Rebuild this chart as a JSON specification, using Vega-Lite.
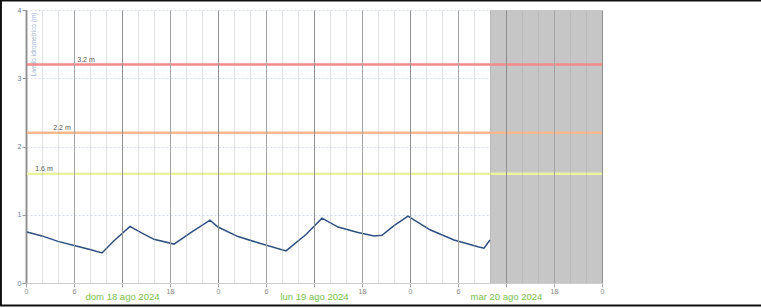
{
  "$schema": "https://vega.github.io/schema/vega-lite/v6.json",
  "width": 576,
  "height": 273,
  "autosize": "none",
  "padding": {"left": 26, "top": 10, "right": 159, "bottom": 25},
  "background": "white",
  "config": {"view": {"stroke": null}, "font": "Liberation Sans"},
  "datasets": {
    "futuro": [{"inizio": "2024-08-20T10:00:00", "fine": "2024-08-21T00:00:00"}],
    "soglie": [
      {"livello": 3.2, "etichetta": "3.2 m", "pos": "2024-08-18T07:30:00"},
      {"livello": 2.2, "etichetta": "2.2 m", "pos": "2024-08-18T04:30:00"},
      {"livello": 1.6, "etichetta": "1.6 m", "pos": "2024-08-18T02:15:00"}
    ],
    "misure": [
      {"ora": "2024-08-18T00:00:00", "valore": 0.75},
      {"ora": "2024-08-18T02:00:00", "valore": 0.69},
      {"ora": "2024-08-18T04:00:00", "valore": 0.61},
      {"ora": "2024-08-18T06:00:00", "valore": 0.55},
      {"ora": "2024-08-18T08:00:00", "valore": 0.49},
      {"ora": "2024-08-18T09:30:00", "valore": 0.44},
      {"ora": "2024-08-18T11:00:00", "valore": 0.62},
      {"ora": "2024-08-18T13:00:00", "valore": 0.83},
      {"ora": "2024-08-18T14:30:00", "valore": 0.73},
      {"ora": "2024-08-18T16:00:00", "valore": 0.64},
      {"ora": "2024-08-18T18:30:00", "valore": 0.57},
      {"ora": "2024-08-18T20:30:00", "valore": 0.73},
      {"ora": "2024-08-18T23:00:00", "valore": 0.92},
      {"ora": "2024-08-19T00:00:00", "valore": 0.82},
      {"ora": "2024-08-19T02:30:00", "valore": 0.68},
      {"ora": "2024-08-19T05:00:00", "valore": 0.59},
      {"ora": "2024-08-19T08:30:00", "valore": 0.47},
      {"ora": "2024-08-19T11:00:00", "valore": 0.71},
      {"ora": "2024-08-19T13:00:00", "valore": 0.95},
      {"ora": "2024-08-19T15:00:00", "valore": 0.82},
      {"ora": "2024-08-19T17:30:00", "valore": 0.74},
      {"ora": "2024-08-19T19:30:00", "valore": 0.69},
      {"ora": "2024-08-19T20:30:00", "valore": 0.70},
      {"ora": "2024-08-19T22:00:00", "valore": 0.84},
      {"ora": "2024-08-19T23:45:00", "valore": 0.98},
      {"ora": "2024-08-20T02:30:00", "valore": 0.78},
      {"ora": "2024-08-20T05:30:00", "valore": 0.63},
      {"ora": "2024-08-20T08:30:00", "valore": 0.53},
      {"ora": "2024-08-20T09:15:00", "valore": 0.51},
      {"ora": "2024-08-20T10:00:00", "valore": 0.63}
    ]
  },
  "layer": [
    {
      "data": {"name": "futuro"},
      "mark": {"type": "rect", "color": "#c6c6c6"},
      "encoding": {
        "x": {
          "field": "inizio",
          "type": "temporal",
          "scale": {
            "domain": [
              {"year": 2024, "month": 8, "date": 18, "hours": 0},
              {"year": 2024, "month": 8, "date": 21, "hours": 0}
            ]
          },
          "axis": {
            "title": null,
            "tickCount": 100,
            "values": [
              {"year": 2024, "month": 8, "date": 18, "hours": 0},
              {"year": 2024, "month": 8, "date": 18, "hours": 2},
              {"year": 2024, "month": 8, "date": 18, "hours": 4},
              {"year": 2024, "month": 8, "date": 18, "hours": 6},
              {"year": 2024, "month": 8, "date": 18, "hours": 8},
              {"year": 2024, "month": 8, "date": 18, "hours": 10},
              {"year": 2024, "month": 8, "date": 18, "hours": 12},
              {"year": 2024, "month": 8, "date": 18, "hours": 14},
              {"year": 2024, "month": 8, "date": 18, "hours": 16},
              {"year": 2024, "month": 8, "date": 18, "hours": 18},
              {"year": 2024, "month": 8, "date": 18, "hours": 20},
              {"year": 2024, "month": 8, "date": 18, "hours": 22},
              {"year": 2024, "month": 8, "date": 19, "hours": 0},
              {"year": 2024, "month": 8, "date": 19, "hours": 2},
              {"year": 2024, "month": 8, "date": 19, "hours": 4},
              {"year": 2024, "month": 8, "date": 19, "hours": 6},
              {"year": 2024, "month": 8, "date": 19, "hours": 8},
              {"year": 2024, "month": 8, "date": 19, "hours": 10},
              {"year": 2024, "month": 8, "date": 19, "hours": 12},
              {"year": 2024, "month": 8, "date": 19, "hours": 14},
              {"year": 2024, "month": 8, "date": 19, "hours": 16},
              {"year": 2024, "month": 8, "date": 19, "hours": 18},
              {"year": 2024, "month": 8, "date": 19, "hours": 20},
              {"year": 2024, "month": 8, "date": 19, "hours": 22},
              {"year": 2024, "month": 8, "date": 20, "hours": 0},
              {"year": 2024, "month": 8, "date": 20, "hours": 2},
              {"year": 2024, "month": 8, "date": 20, "hours": 4},
              {"year": 2024, "month": 8, "date": 20, "hours": 6},
              {"year": 2024, "month": 8, "date": 20, "hours": 8},
              {"year": 2024, "month": 8, "date": 20, "hours": 10},
              {"year": 2024, "month": 8, "date": 20, "hours": 12},
              {"year": 2024, "month": 8, "date": 20, "hours": 14},
              {"year": 2024, "month": 8, "date": 20, "hours": 16},
              {"year": 2024, "month": 8, "date": 20, "hours": 18},
              {"year": 2024, "month": 8, "date": 20, "hours": 20},
              {"year": 2024, "month": 8, "date": 20, "hours": 22},
              {"year": 2024, "month": 8, "date": 21, "hours": 0}
            ],
            "grid": true,
            "gridColor": {"condition": {"test": "hours(datum.value) % 12 == 0", "value": "#8f8f8f"}, "value": "#a3a3a3"},
            "gridOpacity": {"condition": {"test": "hours(datum.value) % 6 != 0", "value": 0.3}, "value": 1},
            "labelExpr": "hours(datum.value) % 6 != 0 ? '' : (hours(datum.value) == 12 ? ['', ['dom','lun','mar','mer','gio','ven','sab'][day(datum.value)] + ' ' + date(datum.value) + ' ago 2024'] : ('' + hours(datum.value)))",
            "labelFontSize": {"condition": {"test": "hours(datum.value) == 12", "value": 9.5}, "value": 7},
            "labelColor": {"condition": {"test": "hours(datum.value) == 12", "value": "#7cc04e"}, "value": "#8a8a8a"},
            "labelLineHeight": 4,
            "labelPadding": 0,
            "labelOverlap": false,
            "labelBound": false,
            "labelFlush": false,
            "tickSize": 4,
            "tickColor": "#a9a9a9",
            "tickOpacity": {"condition": {"test": "hours(datum.value) % 6 == 0", "value": 1}, "value": 0},
            "domainColor": "#cccccc",
            "zindex": 1
          }
        },
        "x2": {"field": "fine"}
      }
    },
    {
      "data": {"name": "soglie"},
      "mark": {"type": "rule", "strokeWidth": 2.5},
      "encoding": {
        "y": {
          "field": "livello",
          "type": "quantitative",
          "scale": {"domain": [0, 4], "nice": false},
          "axis": {
            "values": [0, 1, 2, 3, 4],
            "format": "d",
            "title": "Livello idrometrico (m)",
            "titleX": 4,
            "titleY": 2,
            "titleAngle": -90,
            "titleAlign": "right",
            "titleBaseline": "top",
            "titleFontSize": 6.5,
            "titleFontWeight": "normal",
            "titleColor": "#9ab4d0",
            "labelFontSize": 7,
            "labelColor": "#6c7c9c",
            "labelPadding": 1,
            "tickSize": 4,
            "tickColor": "#999999",
            "domainColor": "#9a9a9a",
            "domainWidth": 2,
            "grid": true,
            "gridColor": "#d3dde8",
            "gridDash": [2, 2]
          }
        },
        "color": {
          "field": "etichetta",
          "type": "nominal",
          "scale": {"domain": ["3.2 m", "2.2 m", "1.6 m"], "range": ["#f28b8b", "#f6b88e", "#ebf3a0"]},
          "legend": null
        }
      }
    },
    {
      "data": {"name": "soglie"},
      "mark": {"type": "text", "fontSize": 7, "color": "#555555", "baseline": "bottom", "dy": -2},
      "encoding": {
        "x": {"field": "pos", "type": "temporal"},
        "y": {"field": "livello", "type": "quantitative"},
        "text": {"field": "etichetta"}
      }
    },
    {
      "data": {"name": "misure"},
      "mark": {"type": "line", "color": "#2e4f80", "strokeWidth": 1.5},
      "encoding": {
        "x": {"field": "ora", "type": "temporal"},
        "y": {"field": "valore", "type": "quantitative"}
      }
    },
    {
      "data": {"values": [{}]},
      "mark": {"type": "rect", "fill": null, "stroke": "#111111", "strokeWidth": 2, "clip": false},
      "encoding": {
        "x": {"datum": {"year": 2024, "month": 8, "date": 17, "hours": 20, "minutes": 52}, "type": "temporal"},
        "x2": {"datum": {"year": 2024, "month": 8, "date": 21, "hours": 23}},
        "y": {"datum": -0.33, "type": "quantitative"},
        "y2": {"datum": 4.14}
      }
    }
  ]
}
